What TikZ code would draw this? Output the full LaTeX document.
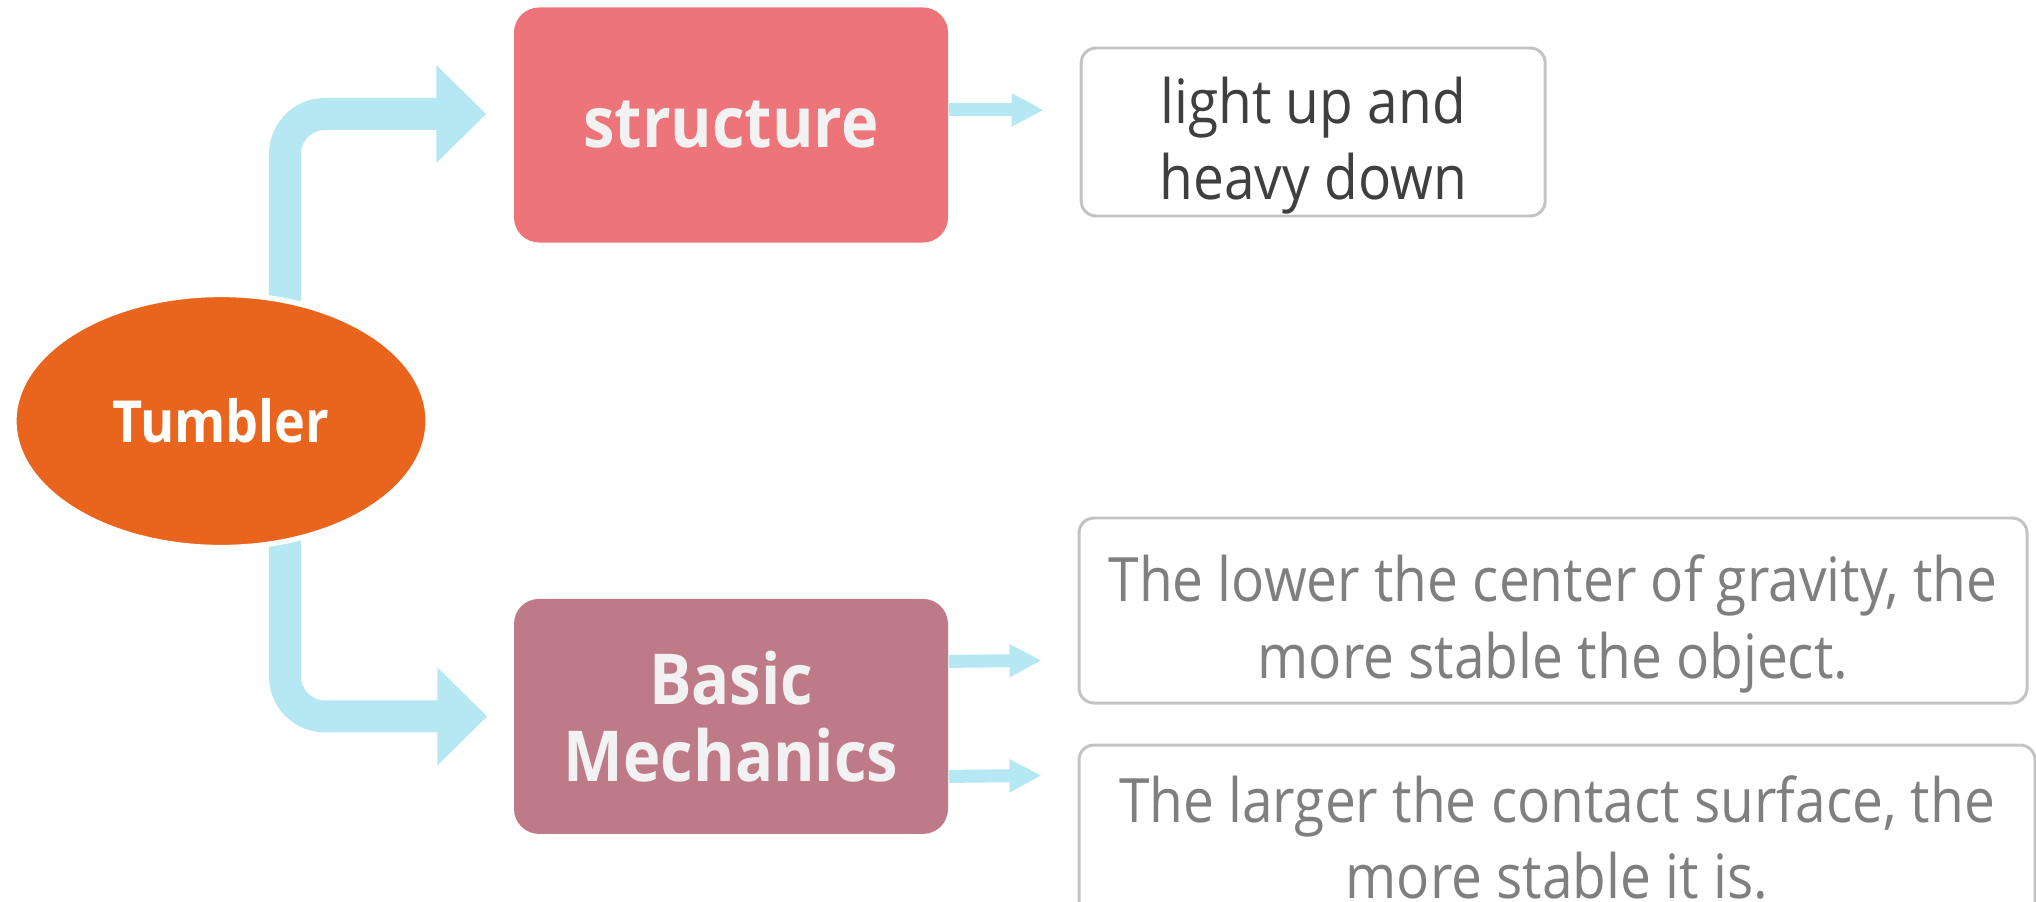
\documentclass[tikz,border=0pt]{standalone}
\usepackage{fontspec}
\setmainfont{Open Sans}[FakeStretch=0.9]
\usepackage{tikz}
\usetikzlibrary{shapes.geometric, arrows.meta, positioning, backgrounds}
\definecolor{tumblerorange}{HTML}{E9651E}
\definecolor{structred}{HTML}{ED757A}
\definecolor{mechrose}{HTML}{BF7A88}
\definecolor{arrowblue}{HTML}{B5E8F3}
\definecolor{leafgray}{HTML}{C3C3C3}
\definecolor{darktext}{HTML}{3F3F3F}
\definecolor{greytext}{HTML}{7F7F7F}
\definecolor{boxtext}{HTML}{F2F2F2}

\begin{document}
\begin{tikzpicture}[
    node distance=3.55cm and 1.31cm,
    root/.style={ellipse, fill=tumblerorange, draw=white, line width=1.5pt, inner sep=0pt, minimum width=4.14cm, minimum height=2.53cm, text=white, font=\bfseries\fontsize{16.5}{20}\selectfont},
    block/.style={rectangle, rounded corners=0.25cm, minimum width=4.34cm, minimum height=2.35cm, align=center, text=boxtext, font=\bfseries\fontsize{20}{21.8}\selectfont},
    leaf/.style={rectangle, rounded corners=0.15cm, draw=leafgray, line width=0.85pt, fill=white, align=center, inner sep=0pt, font=\fontsize{17.4}{21.8}\selectfont},
    lowtext/.style={execute at begin node={\rule{0pt}{1.5cm}}},
    bigarrow/.style={draw=arrowblue, line width=0.32cm, rounded corners=0.4cm, -{Triangle[length=0.5cm, width=0.95cm]}},
    thinarrow/.style={draw=arrowblue, line width=0.13cm, -{Triangle[length=0.32cm, width=0.31cm]}}
]
\useasboundingbox (0,0) rectangle (20.36,-9.01);

% Nodes
\node[root] (tumbler) at (2.21,-4.21) {Tumbler};
\node[block, fill=structred] (structure) at (7.31,-1.25) {structure};
\node[block, fill=mechrose, below=of structure] (mech) {Basic\\Mechanics};

\node[leaf, lowtext, text=darktext, minimum width=4.64cm, minimum height=1.68cm, right=of structure, yshift=-0.07cm] (light) {light up and\\heavy down};
\node[leaf, lowtext, text=greytext, minimum width=9.48cm, minimum height=1.85cm] (gravity) at (15.53,-6.105) {The lower the center of gravity, the\\more stable the object.};
\node[leaf, text=greytext, minimum width=9.56cm, minimum height=1.85cm] (contact) at (15.57,-8.375) {The larger the contact surface, the\\more stable it is.};

% Arrows
\begin{scope}[on background layer]
\draw[bigarrow, shorten >=0.27cm] ([xshift=0.64cm]tumbler.center) |- ([yshift=0.11cm]structure.west);
\draw[bigarrow, shorten >=0.26cm] ([xshift=0.64cm]tumbler.center) |- (mech.west);
\end{scope}

\draw[thinarrow, shorten >=0.36cm] ([yshift=0.15cm]structure.east) -- ([yshift=0.22cm]light.west);
\draw[thinarrow, shorten >=0.36cm] ([yshift=0.55cm]mech.east) -- ([yshift=-0.495cm]gravity.west);
\draw[thinarrow, shorten >=0.36cm] ([yshift=-0.6cm]mech.east) -- ([yshift=0.625cm]contact.west);

\end{tikzpicture}
\end{document}
